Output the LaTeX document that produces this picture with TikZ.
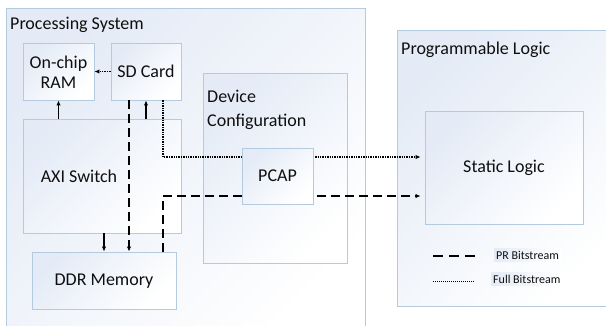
\documentclass[tikz,border=0pt]{standalone}
\usepackage{fontspec}
\setmainfont{Carlito}
\usetikzlibrary{arrows.meta}
\definecolor{bordc}{RGB}{180,202,222}
\definecolor{boxfill}{RGB}{228,235,246}
\definecolor{txt}{RGB}{15,15,15}
\tikzset{
  box/.style={draw=bordc, line width=0.9pt, top color=boxfill, bottom color=white, shading angle=45, inner sep=0pt},
  lbl/.style={text=txt, font=\fontsize{18}{20}\selectfont, inner sep=0pt},
  leg/.style={text=txt, font=\fontsize{12}{14}\selectfont, inner sep=2pt, left color=boxfill, right color=white},
  solidarrow/.style={draw=black, line width=1.2pt, -{Latex[length=5pt,width=4.5pt]}},
  dasharrow/.style={draw=black, line width=1.3pt, dash pattern=on 9pt off 5pt, -{Latex[length=5pt,width=4.5pt]}},
  dotarrow/.style={draw=black, line width=1.2pt, dash pattern=on 1.3pt off 1.1pt, -{Latex[length=5pt,width=4.5pt]}},
}
\begin{document}
\begin{tikzpicture}[x=1pt,y=-1pt]
\useasboundingbox (0,0) rectangle (606,325);
\clip (0,0) rectangle (606,325);
\fill[white] (0,0) rectangle (606,325);
% containers
\node[box, minimum width=359pt, minimum height=332pt] (ps) at (185.5,174) {};
\node[lbl, anchor=base west] (pstitle) at (10,29) {Processing System};
\node[box, minimum width=223pt, minimum height=276pt] (pl) at (508.5,168) {};
\node[lbl, anchor=base west] (pltitle) at (401,54) {Programmable Logic};
\node[box, minimum width=144pt, minimum height=190pt] (dc) at (275,168) {};
\node[lbl, anchor=north west, align=left, font=\fontsize{18}{24}\selectfont] (dctitle) at (207,90) {Device\\Configuration};
% blocks
\node[box, minimum width=71pt, minimum height=57pt] (ram) at (58.5,71.5) {};
\node[lbl, align=center] (ramtxt) at (58.5,72) {On-chip\\RAM};
\node[box, minimum width=70pt, minimum height=57pt] (sd) at (146,71.5) {};
\node[lbl] (sdtxt) at (146,71.5) {SD Card};
\node[box, minimum width=158pt, minimum height=114pt] (axi) at (102,176) {};
\node[lbl] (axitxt) at (79,176) {AXI Switch};
\node[box, minimum width=144pt, minimum height=57pt] (ddr) at (104,280.5) {};
\node[lbl] (ddrtxt) at (104,281) {DDR Memory};
\node[box, minimum width=158pt, minimum height=113pt] (static) at (504,167.5) {};
\node[lbl] (statictxt) at (504,168) {Static Logic};
% connectors
\draw[dotarrow] (sd.west) -- (ram.east);
\draw[solidarrow] (axi.north -| ram.south) -- (ram.south);
\draw[solidarrow] (axi.north -| sd.south) -- (sd.south);
\draw[dasharrow] ([xshift=-17pt]sd.south) -- ([xshift=-17pt]sd.south |- ddr.north);
\draw[solidarrow] (axi.south -| ddr.north) -- (ddr.north);
\draw[dasharrow, shorten >=4pt] ([xshift=59pt]ddr.north) |- ([yshift=-28.5pt]static.west);
\draw[dotarrow, shorten >=4pt] ([xshift=17pt]sd.south) |- ([yshift=10.5pt]static.west);
% PCAP on top
\node[box, minimum width=71pt, minimum height=56pt] (pcap) at (277.5,176) {};
\node[lbl] (pcaptxt) at (277.5,176) {PCAP};
% legend
\draw[line width=1.4pt, dash pattern=on 10pt off 6pt] (433,256) -- (478,256);
\draw[line width=1pt, dash pattern=on 1pt off 1pt] (433,281) -- (474,281);
\node[leg, anchor=west] (legpr) at (494,255) {PR Bitstream};
\node[leg, anchor=west] (legfull) at (491,279) {Full Bitstream};
\end{tikzpicture}
\end{document}
